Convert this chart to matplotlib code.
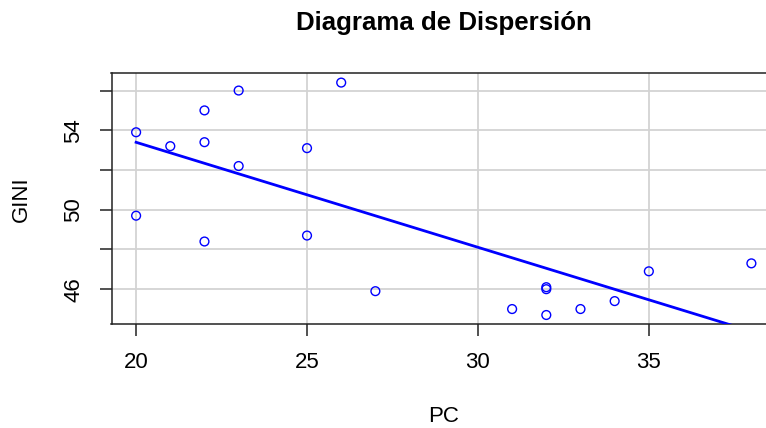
import numpy as np
import matplotlib
matplotlib.use("Agg")
import matplotlib.pyplot as plt

plt.rcParams['font.family'] = ['Liberation Sans', 'DejaVu Sans']

pc = [20, 21, 22, 22, 23, 23, 25, 26, 20, 22, 25, 27,
      31, 32, 32, 32, 33, 34, 35, 38]
gini = [53.9, 53.2, 55.0, 53.4, 56.0, 52.2, 53.1, 56.4, 49.7, 48.4, 48.7, 45.9,
        45.0, 46.1, 46.0, 44.7, 45.0, 45.4, 46.9, 47.3]

x_ticks = [20, 25, 30, 35]
x_tick_labels = ["20", "25", "30", "35"]
y_ticks = [46, 48, 50, 52, 54, 56]
y_tick_labels = ["46", "", "50", "", "54", ""]

title = "Diagrama de Dispersión"
xlabel = "PC"
ylabel = "GINI"

W, H = 766, 428
fig = plt.figure(figsize=(W / 100, H / 100), dpi=100)

left_px, right_px = 111.5, 776.0
top_px, bottom_px = 73.3, 324.3
ax = fig.add_axes([left_px / W, 1 - bottom_px / H,
                   (right_px - left_px) / W, (bottom_px - top_px) / H])

x = np.array(pc, dtype=float)
y = np.array(gini, dtype=float)

xr = x.max() - x.min()
yr = y.max() - y.min()
ax.set_xlim(x.min() - 0.04 * xr, x.max() + 0.04 * xr)
ax.set_ylim(y.min() - 0.04 * yr, y.max() + 0.04 * yr)

ax.grid(True, color='#d3d3d3', linewidth=1.3)
ax.set_axisbelow(True)

ax.scatter(x, y, s=40, facecolors='none', edgecolors='blue', linewidths=1.0, zorder=3)

slope, intercept = np.polyfit(x, y, 1)
xl = np.array([x.min(), x.max()])
ax.plot(xl, intercept + slope * xl, color='blue', linewidth=2.0, zorder=4)

ax.set_xticks(x_ticks)
ax.set_xticklabels(x_tick_labels)
ax.set_yticks(y_ticks)
ax.set_yticklabels(y_tick_labels, rotation=90, va='center')

ax.tick_params(axis='both', direction='out', length=8.6, width=1.1,
               labelsize=16, pad=11, colors='#222222', labelcolor='black')

for s in ax.spines.values():
    s.set_color('#222222')
    s.set_linewidth(1.1)

ax.set_title(title, fontsize=18.6, fontweight='bold', pad=31)
ax.set_xlabel(xlabel, fontsize=16, va='center')
ax.xaxis.set_label_coords(0.5, (bottom_px - 416.7) / (bottom_px - top_px))
ax.set_ylabel(ylabel, fontsize=16, va='center')
ax.yaxis.set_label_coords((21 - left_px) / (right_px - left_px), 0.5)

fig.savefig("out.png", dpi=100)
